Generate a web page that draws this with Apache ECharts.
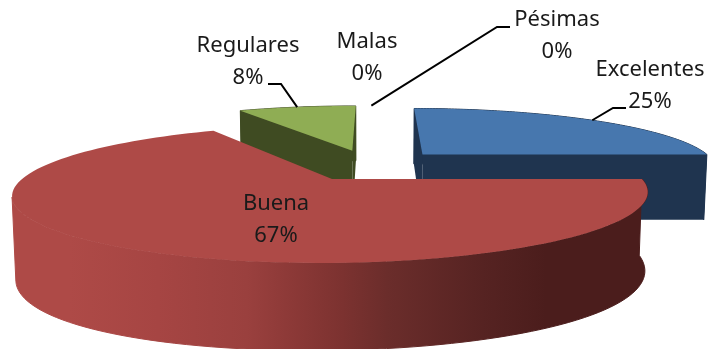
<!DOCTYPE html>
<html>
<head>
<meta charset="utf-8">
<style>html,body{margin:0;padding:0;background:#fff}#main{width:709px;height:349px}</style>
<script src="https://cdn.jsdelivr.net/npm/echarts@6/dist/echarts.min.js"></script>
</head>
<body>
<div id="main"></div>
<script>
// Survey results: share of answers per rating
const categories = ['Excelentes', 'Buena', 'Regulares', 'Malas', 'Pésimas'];
const shares = [25, 67, 8, 0, 0];

// Face colours per slice; the large slice gets a gradient on its rim
const topColors = ['#4777AE', '#AE4A47', '#8FAD54', '#7D60A0', '#4BACC6'];
const sideColors = ['#1F344F', null, '#3F4B22', '#3F3050', '#255663'];
const redSideStops = [
  [0, '#AE4A47'], [0.09, '#AE4A47'], [0.23, '#A64543'], [0.37, '#9A403E'], [0.45, '#8A3836'],
  [0.52, '#7C3230'], [0.59, '#6B2D2B'], [0.74, '#562322'], [0.84, '#4B1D1C'], [1, '#4B1D1C']
];
// Paint order of the slices, far to near
const paintOrder = [0, 2, 4, 3, 1];
// Extra rim height towards the left and right ends, per slice
const rimSwell = [0, 8, 0, 0, 0];
// Sideways slice offset on top of the explosion, per slice
const sliceNudgeX = [-0.01, 0, -0.009, -0.007, -0.007];

// Perspective camera for the tilted, exploded pie
const view = {
  vanishX: 373, horizonY: -119, radiusPx: 310, topScale: 298, bottomScale: 377,
  depthGain: 0.22, baseDepth: 1.0495, bottomDepthX: 0.01, bottomDepthY: 0.023,
  explode: 0.26, steps: 120
};

// Label centres and leader elbows, in pixels
const labelLayout = [
  { x: 650, y: 86, leader: [[613, 108], [626, 108]] },
  { x: 276, y: 220 },
  { x: 248, y: 62, leader: [[281, 84], [268, 84]] },
  { x: 367, y: 58 },
  { x: 557, y: 36, leader: [[497, 27], [510, 27]] }
];

function project(X, Z, bottom, swell) {
  const w = view.baseDepth + view.depthGain * Z;
  if (!bottom) return [view.vanishX + view.radiusPx * X / w, view.horizonY + view.topScale / w];
  return [
    view.vanishX + view.radiusPx * X / (w + view.bottomDepthX),
    view.horizonY + (view.bottomScale + (swell || 0) * X * X) / (w + view.bottomDepthY)
  ];
}
function toXZ(centre, deg) {
  const r = deg * Math.PI / 180;
  return [centre[0] + Math.sin(r), centre[1] + Math.cos(r)];
}

// Cumulative start/end angles, clockwise from the far side of the pie
const total = shares.reduce((a, b) => a + b, 0);
let running = 0;
const slices = shares.map((v, i) => {
  const start = running;
  running += v / total * 360;
  const mid = (start + running) / 2 * Math.PI / 180;
  return {
    start, end: running, mid: (start + running) / 2,
    centre: [view.explode * Math.sin(mid) + sliceNudgeX[i], view.explode * Math.cos(mid)]
  };
});

function arc(s, bottom, swell) {
  const pts = [];
  for (let i = 0; i <= view.steps; i++) {
    const p = toXZ(s.centre, s.start + (s.end - s.start) * i / view.steps);
    pts.push(project(p[0], p[1], bottom, swell));
  }
  return pts;
}
function radialFace(s, deg, fill, z2) {
  const e = toXZ(s.centre, deg);
  return {
    type: 'polygon', z2,
    shape: { points: [project(s.centre[0], s.centre[1]), project(e[0], e[1]),
                      project(e[0], e[1], true), project(s.centre[0], s.centre[1], true)] },
    style: { fill }
  };
}

function renderSlice(params, api) {
  const i = params.dataIndex;
  const children = [];
  const s = slices[i];
  if (api.value(1) > 0) {
    const order = paintOrder.indexOf(i) * 10;
    const top = arc(s), low = arc(s, true, rimSwell[i]);
    const fill = sideColors[i] || new echarts.graphic.LinearGradient(0, 0, 1, 0,
      redSideStops.map(([offset, color]) => ({ offset, color })));
    // The rim band stops at the silhouette's leftmost point when a slice wraps past it
    let rimEnd = top.length;
    if (s.start < 180 && s.end > 180) {
      rimEnd = top.reduce((best, p, k) => (p[0] < top[best][0] ? k : best), 0) + 1;
    }
    const band = top.slice(0, rimEnd).concat(low.slice(0, rimEnd).reverse());
    // A hairline stroke closes the antialiasing seam where the band meets the top face
    children.push({
      type: 'polygon', z2: order, shape: { points: band },
      style: { fill, stroke: fill, lineWidth: 1 }
    });
    // Cut faces are drawn only when they turn towards the viewer
    const eps = 1e-6;
    if (Math.sin(s.start * Math.PI / 180) <= eps) children.push(radialFace(s, s.start, fill, order + 1));
    if (Math.sin(s.end * Math.PI / 180) >= -eps) children.push(radialFace(s, s.end, fill, order + 1));
    children.push({
      type: 'polygon', z2: order + 2,
      shape: { points: [project(s.centre[0], s.centre[1])].concat(top) },
      style: { fill: topColors[i] }
    });
  }
  return { type: 'group', children };
}

function renderLabel(params, api) {
  const i = params.dataIndex;
  const s = slices[i];
  const layout = labelLayout[i];
  const children = [{
    type: 'text',
    style: {
      x: layout.x, y: layout.y, text: categories[i] + '\n' + api.value(1) + '%',
      font: '22px "Noto Sans"', lineHeight: 32, fill: '#1a1a1a', align: 'center', verticalAlign: 'middle'
    }
  }];
  if (layout.leader) {
    const rimPoint = toXZ(s.centre, s.mid);
    children.push({
      type: 'polyline',
      shape: { points: [project(rimPoint[0], rimPoint[1])].concat(layout.leader) },
      style: { stroke: '#000', lineWidth: 2, fill: null }
    });
  }
  return { type: 'group', children };
}

const rows = categories.map((name, i) => [name, shares[i]]);
const chart = echarts.init(document.getElementById('main'), null, { renderer: 'canvas' });
chart.setOption({
  animation: false,
  backgroundColor: '#fff',
  series: [
    { type: 'custom', coordinateSystem: 'none', data: rows, renderItem: renderSlice, z: 1 },
    { type: 'custom', coordinateSystem: 'none', data: rows, renderItem: renderLabel, z: 2 }
  ]
});
</script>
</body>
</html>
